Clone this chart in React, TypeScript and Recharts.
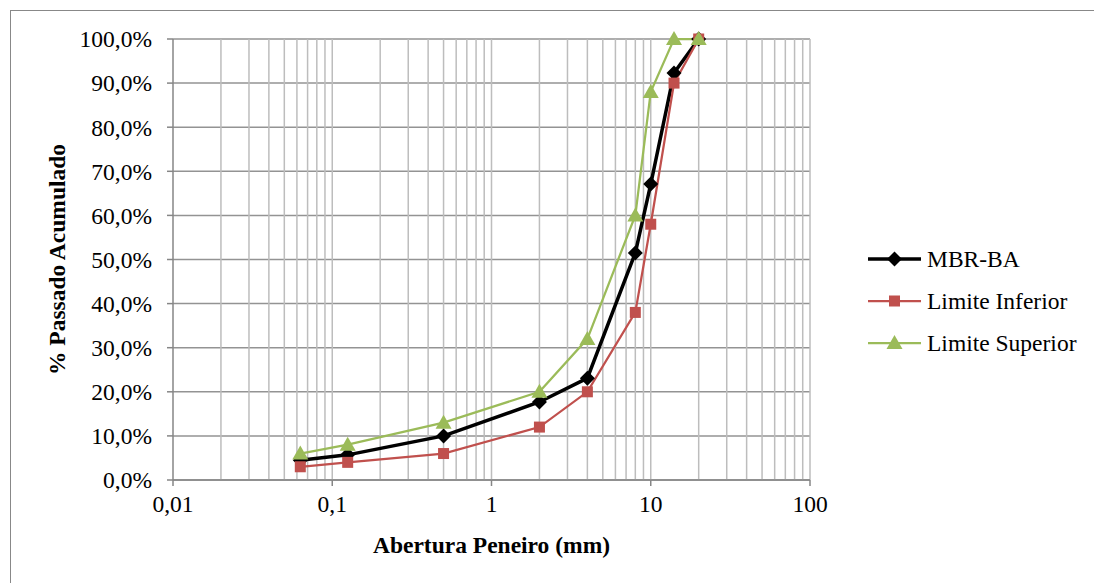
import React from "react";
import {
  LineChart,
  Line,
  XAxis,
  YAxis,
  CartesianGrid,
  ReferenceLine,
} from "recharts";

// sieve openings (mm) and % passing for each curve
const sieves = [0.063, 0.125, 0.5, 2, 4, 8, 10, 14, 20];
const mbrBa = [4.5, 5.7, 10.0, 17.7, 23.1, 51.5, 67.1, 92.3, 100];
const limiteInferior = [3, 4, 6, 12, 20, 38, 58, 90, 100];
const limiteSuperior = [6, 8, 13, 20, 32, 60, 88, 100, 100];

const xTicks = [0.01, 0.1, 1, 10, 100];
const yTicks = [0, 10, 20, 30, 40, 50, 60, 70, 80, 90, 100];

// log-grid: every multiple 1..9 inside each decade
const decades = [0.01, 0.1, 1, 10];
const multiples = [2, 3, 4, 5, 6, 7, 8, 9];
const gridX = [
  ...decades.flatMap((d) => multiples.map((m) => +(d * m).toPrecision(3))),
  0.1,
  1,
  10,
  100,
];

const toRows = (vals: number[]) => sieves.map((x, i) => ({ x, y: vals[i] }));

const FONT = '"Liberation Serif", "Times New Roman", serif';
const FS = 23.5;

const Diamond = (p: any) => {
  const { cx, cy, index } = p;
  if (cx == null || cy == null) return <g key={`d-${index}`} />;
  const s = 7.5;
  return (
    <path
      key={`d-${index}`}
      d={`M${cx},${cy - s}L${cx + s},${cy}L${cx},${cy + s}L${cx - s},${cy}Z`}
      fill="#000"
    />
  );
};

const Square = (p: any) => {
  const { cx, cy, index } = p;
  if (cx == null || cy == null) return <g key={`s-${index}`} />;
  const s = 5.5;
  return <rect key={`s-${index}`} x={cx - s} y={cy - s} width={s * 2} height={s * 2} fill="#C0504D" />;
};

const Triangle = (p: any) => {
  const { cx, cy, index } = p;
  if (cx == null || cy == null) return <g key={`t-${index}`} />;
  return (
    <path
      key={`t-${index}`}
      d={`M${cx},${cy - 8}L${cx + 8},${cy + 6}L${cx - 8},${cy + 6}Z`}
      fill="#9BBB59"
    />
  );
};

const series = [
  { name: "MBR-BA", color: "#000000", width: 3.5, data: toRows(mbrBa), dot: Diamond },
  { name: "Limite Inferior", color: "#C0504D", width: 2.25, data: toRows(limiteInferior), dot: Square },
  { name: "Limite Superior", color: "#9BBB59", width: 2.25, data: toRows(limiteSuperior), dot: Triangle },
];

function SeriesLegend() {
  return (
    <svg
      width={226}
      height={130}
      style={{ position: "absolute", left: 868, top: 238, display: "block" }}
    >
      {series.map((s, i) => {
        const y = 21 + i * 42;
        const Dot = s.dot;
        return (
          <g key={s.name}>
            <line x1={0} y1={y} x2={53} y2={y} stroke={s.color} strokeWidth={s.width} />
            <Dot cx={26.5} cy={y} index={i} />
            <text x={59} y={y} dy="0.34em" fontFamily={FONT} fontSize={FS} fill="#000">
              {s.name}
            </text>
          </g>
        );
      })}
    </svg>
  );
}

const fmtX = (v: number) => String(v).replace(".", ",");
const fmtY = (v: number) => `${v.toFixed(1).replace(".", ",")}%`;

export default function App() {
  return (
    <div
      style={{
        position: "absolute",
        left: 0,
        top: 0,
        width: 1094,
        height: 583,
        background: "#fff",
        fontFamily: FONT,
      }}
    >
      <div
        style={{
          position: "absolute",
          left: 10,
          top: 10,
          width: 1084,
          height: 573,
          borderTop: "1.5px solid #888",
          borderLeft: "1.5px solid #888",
          boxSizing: "border-box",
        }}
      />
      <LineChart
        width={1094}
        height={583}
        margin={{ top: 39, right: 284, bottom: 43, left: 0 }}
        style={{ position: "absolute", left: 0, top: 0, fontFamily: FONT }}
      >
        <CartesianGrid vertical={false} stroke="#939393" strokeWidth={1.5} />
        {gridX.map((v) => (
          <ReferenceLine key={v} x={v} stroke="#bdbdbd" strokeWidth={1.5} />
        ))}
        <XAxis
          type="number"
          dataKey="x"
          scale="log"
          domain={[0.01, 100]}
          ticks={xTicks}
          allowDataOverflow
          tickFormatter={fmtX}
          height={60}
          stroke="#868686"
          strokeWidth={1.5}
          tickSize={6}
          tickMargin={9}
          tick={{ fill: "#000", fontFamily: FONT, fontSize: FS }}
          label={{
            content: (props: any) => {
              const vb = props.viewBox;
              return (
                <text
                  x={vb.x + vb.width / 2}
                  y={vb.y + 73}
                  textAnchor="middle"
                  fontFamily={FONT}
                  fontWeight="bold"
                  fontSize={FS}
                  fill="#000"
                >
                  Abertura Peneiro (mm)
                </text>
              );
            },
          }}
        />
        <YAxis
          type="number"
          dataKey="y"
          domain={[0, 100]}
          ticks={yTicks}
          tickFormatter={fmtY}
          width={173}
          stroke="#868686"
          strokeWidth={1.5}
          tickSize={6}
          tickMargin={15}
          tick={{ fill: "#000", fontFamily: FONT, fontSize: FS }}
          label={{
            content: (props: any) => {
              const vb = props.viewBox;
              const cx = 57;
              const cy = vb.y + vb.height / 2;
              return (
                <text
                  x={cx}
                  y={cy}
                  dy="0.34em"
                  textAnchor="middle"
                  transform={`rotate(-90, ${cx}, ${cy})`}
                  fontFamily={FONT}
                  fontWeight="bold"
                  fontSize={FS}
                  fill="#000"
                >
                  % Passado Acumulado
                </text>
              );
            },
          }}
        />
        {series.map((s) => (
          <Line
            key={s.name}
            name={s.name}
            data={s.data}
            dataKey="y"
            type="linear"
            stroke={s.color}
            strokeWidth={s.width}
            dot={s.dot}
            activeDot={false}
            isAnimationActive={false}
          />
        ))}
      </LineChart>
      <SeriesLegend />
    </div>
  );
}
